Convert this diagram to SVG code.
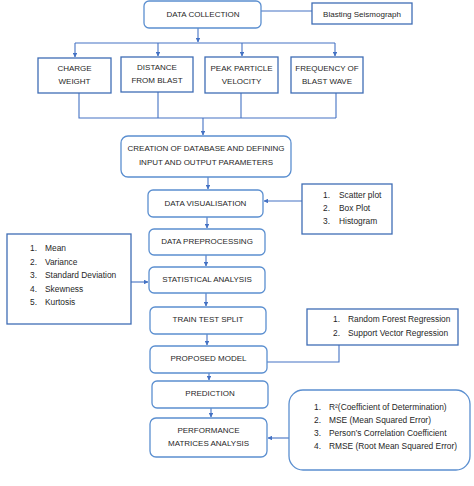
<svg xmlns="http://www.w3.org/2000/svg" width="474" height="486" viewBox="0 0 474 486">
<defs>
<marker id="ah" viewBox="0 0 10 10" refX="9" refY="5" markerWidth="4.5" markerHeight="4.5" orient="auto">
<path d="M0,0 L10,5 L0,10 z" fill="#4472C4"/>
</marker>
<style>
.rb{fill:#fff;stroke:#5B8FD0;stroke-width:1.3}
.sb{fill:#fff;stroke:#3F6DB5;stroke-width:1.3}
.t{font-family:"Liberation Sans",Arial,sans-serif;font-size:8px;fill:#1f1f1f;text-anchor:middle}
.l{font-family:"Liberation Sans",Arial,sans-serif;font-size:8.4px;fill:#1f1f1f}
.c{fill:none;stroke:#4472C4;stroke-width:1.1}
.a{marker-end:url(#ah)}
</style>
</defs>
<rect width="474" height="486" fill="#fff"/>
<g id="connectors">
<path class="c" d="M261,11 H312"/>
<path class="c a" d="M198,28 V42"/>
<path class="c" d="M75,43 H335"/>
<path class="c a" d="M75,43 V57"/>
<path class="c a" d="M158,43 V56"/>
<path class="c a" d="M242,43 V56"/>
<path class="c a" d="M335,43 V56"/>
<path class="c" d="M79,93 V118 H336 M158,92 V118 M241,93 V118 M336,93 V118"/>
<path class="c a" d="M203,118 V135"/>
<path class="c a" d="M208,177 V189"/>
<path class="c a" d="M302,201 H264"/>
<path class="c a" d="M207,217 V228"/>
<path class="c a" d="M206,255 V266"/>
<path class="c a" d="M131,282 H148"/>
<path class="c a" d="M206,293 V306"/>
<path class="c a" d="M207,334 V345"/>
<path class="c" d="M339,345 V362 H267"/>
<path class="c a" d="M209,373 V380"/>
<path class="c a" d="M211,408 V417"/>
<path class="c a" d="M289,438 H268"/>
</g>
<g id="data-collection">
<rect class="rb" x="144" y="1" width="117" height="27" rx="5"/>
<text class="t" x="203" y="17">DATA COLLECTION</text>
</g>
<g id="blasting-seismograph">
<rect class="sb" x="312" y="3" width="100" height="21"/>
<text class="t" x="362" y="17">Blasting Seismograph</text>
</g>
<g id="charge-weight">
<rect class="sb" x="38" y="58" width="73" height="35"/>
<text class="t" x="74.5" y="71">CHARGE</text>
<text class="t" x="74.5" y="84">WEIGHT</text>
</g>
<g id="distance-from-blast">
<rect class="sb" x="121" y="57" width="72" height="35"/>
<text class="t" x="157" y="70">DISTANCE</text>
<text class="t" x="157" y="83">FROM BLAST</text>
</g>
<g id="peak-particle-velocity">
<rect class="sb" x="205" y="57" width="73" height="36"/>
<text class="t" x="241.5" y="71">PEAK PARTICLE</text>
<text class="t" x="241.5" y="84">VELOCITY</text>
</g>
<g id="frequency-of-blast-wave">
<rect class="sb" x="291" y="57" width="72" height="36"/>
<text class="t" x="327" y="71">FREQUENCY OF</text>
<text class="t" x="327" y="84">BLAST WAVE</text>
</g>
<g id="creation-of-database">
<rect class="rb" x="121" y="136" width="170" height="41" rx="7"/>
<text class="t" x="206" y="151">CREATION OF DATABASE AND DEFINING</text>
<text class="t" x="206" y="165">INPUT AND OUTPUT PARAMETERS</text>
</g>
<g id="data-visualisation">
<rect class="rb" x="148" y="190" width="115" height="27" rx="5"/>
<text class="t" x="205.5" y="206">DATA VISUALISATION</text>
</g>
<g id="visualisation-list">
<rect class="sb" x="302" y="184" width="90" height="50"/>
<text class="l" x="323" y="198">1.</text><text class="l" x="339" y="198">Scatter plot</text>
<text class="l" x="323" y="211">2.</text><text class="l" x="339" y="211">Box Plot</text>
<text class="l" x="323" y="224">3.</text><text class="l" x="339" y="224">Histogram</text>
</g>
<g id="data-preprocessing">
<rect class="rb" x="149" y="229" width="116" height="26" rx="5"/>
<text class="t" x="207" y="244">DATA PREPROCESSING</text>
</g>
<g id="statistics-list">
<rect class="sb" x="7" y="234" width="124" height="90"/>
<text class="l" x="30" y="251">1.</text><text class="l" x="45" y="251">Mean</text>
<text class="l" x="30" y="265">2.</text><text class="l" x="45" y="265">Variance</text>
<text class="l" x="30" y="278">3.</text><text class="l" x="45" y="278">Standard Deviation</text>
<text class="l" x="30" y="292">4.</text><text class="l" x="45" y="292">Skewness</text>
<text class="l" x="30" y="305">5.</text><text class="l" x="45" y="305">Kurtosis</text>
</g>
<g id="statistical-analysis">
<rect class="rb" x="149" y="267" width="116" height="26" rx="5"/>
<text class="t" x="207" y="282">STATISTICAL ANALYSIS</text>
</g>
<g id="train-test-split">
<rect class="rb" x="150" y="307" width="116" height="27" rx="5"/>
<text class="t" x="208" y="322">TRAIN TEST SPLIT</text>
</g>
<g id="models-list">
<rect class="sb" x="307" y="309" width="151" height="36"/>
<text class="l" x="333" y="322">1.</text><text class="l" x="348" y="322">Random Forest Regression</text>
<text class="l" x="333" y="336">2.</text><text class="l" x="348" y="336">Support Vector Regression</text>
</g>
<g id="proposed-model">
<rect class="rb" x="150" y="346" width="117" height="27" rx="5"/>
<text class="t" x="208.5" y="361">PROPOSED MODEL</text>
</g>
<g id="prediction">
<rect class="rb" x="152" y="381" width="116" height="27" rx="5"/>
<text class="t" x="210" y="396">PREDICTION</text>
</g>
<g id="performance-matrices-analysis">
<rect class="rb" x="150" y="418" width="117" height="39" rx="6"/>
<text class="t" x="208.5" y="433">PERFORMANCE</text>
<text class="t" x="208.5" y="446">MATRICES ANALYSIS</text>
</g>
<g id="metrics-list">
<rect class="rb" x="289" y="390" width="181" height="80" rx="14"/>
<text class="l" x="314" y="410">1.</text><text class="l" x="329" y="410">R²(Coefficient of Determination)</text>
<text class="l" x="314" y="423">2.</text><text class="l" x="329" y="423">MSE (Mean Squared Error)</text>
<text class="l" x="314" y="436">3.</text><text class="l" x="329" y="436">Person’s Correlation Coefficient</text>
<text class="l" x="314" y="449">4.</text><text class="l" x="329" y="449">RMSE (Root Mean Squared Error)</text>
</g>
</svg>
